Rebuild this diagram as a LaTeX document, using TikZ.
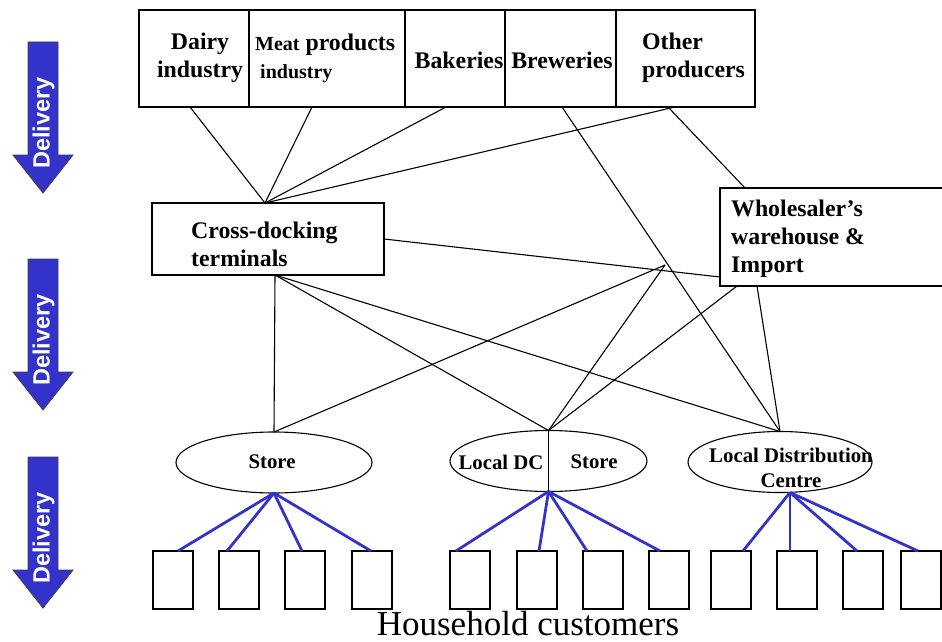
\documentclass[tikz,border=0pt]{standalone}
\usepackage{fontspec}
\setmainfont{Liberation Serif}
\newfontfamily\arialfam{Liberation Sans}
\usetikzlibrary{shapes.geometric}
\definecolor{delblue}{HTML}{3333CC}
\begin{document}
\begin{tikzpicture}[x=1pt,y=-1pt,
  cell/.style={draw, line width=1.2pt, rectangle, inner sep=0pt, outer sep=0pt, minimum height=97pt},
  box/.style={draw, line width=1.2pt, rectangle, inner sep=0pt, outer sep=0pt},
  ell/.style={draw, line width=1.1pt, ellipse, inner sep=0pt, outer sep=0pt},
  hbox/.style={draw, line width=1.5pt, rectangle, inner sep=0pt, outer sep=0pt, minimum width=40pt, minimum height=58pt},
  lbl/.style={inner sep=0pt, font=\fontsize{23.8}{28}\selectfont\bfseries},
  etxt/.style={inner sep=0pt, font=\fontsize{20.8}{25}\selectfont\bfseries},
  conn/.style={line width=1.1pt},
  bline/.style={line width=2.8pt, draw=delblue},
  delarrow/.style={fill=delblue, draw=black!75, line width=0.8pt},
  deltext/.style={rotate=90, text=white, inner sep=0pt, font=\arialfam\bfseries\fontsize{23.5}{23.5}\selectfont}]
\useasboundingbox (0,0) rectangle (942,642);

% Delivery arrows
\foreach \t/\n in {42/da1,259/da2,457/da3}{
  \draw[delarrow] (28,\t) -- (58,\t) -- (58,\t+113) -- (73,\t+113) -- (43,\t+151) -- (13,\t+113) -- (28,\t+113) -- cycle;
  \node[deltext] (\n) at (43.5,\t+81) {Delivery};
}

% top producer cells
\node[cell, minimum width=110pt] (dairy) at (194,58.5) {};
\node[cell, minimum width=156pt] (meat) at (327,58.5) {};
\node[cell, minimum width=100pt] (bak) at (455,58.5) {};
\node[cell, minimum width=111pt] (brew) at (560.5,58.5) {};
\node[cell, minimum width=139pt] (other) at (685.5,58.5) {};
\node[lbl, align=center] (tdairy) at (200,58) {Dairy\\industry};
\node[lbl, align=left, anchor=west] (tmeat) at (255,58) {{\fontsize{20}{28}\selectfont Meat} products\\\hspace*{5pt}{\fontsize{20}{28}\selectfont industry}};
\node[lbl] (tbak) at (459,60) {Bakeries};
\node[lbl] (tbrew) at (562,60) {Breweries};
\node[lbl, align=left, anchor=west] (tother) at (642,58) {Other\\producers};

% middle level
\node[box, minimum width=232pt, minimum height=72pt] (cross) at (268,239) {};
\node[lbl, align=left, anchor=west] (tcross) at (191,244) {Cross-docking\\terminals};
\node[box, minimum width=230pt, minimum height=98pt] (ws) at (835,237) {};
\node[lbl, align=left, anchor=west] (tws) at (731,239) {Wholesaler’s\\warehouse \&\\Import};
\coordinate (J) at (665,265);

% ellipses
\node[ell, minimum width=196pt, minimum height=61pt] (store) at (274,462.5) {};
\node[ell, minimum width=197pt, minimum height=61pt] (mid) at (548.5,461) {};
\node[ell, minimum width=184pt, minimum height=61pt] (ldc) at (780,462) {};
\draw[line width=1pt] (mid.north) -- (mid.south);
\node[etxt] (tstore) at (272,462) {Store};
\node[etxt] (tlocdc) at (501,462) {Local DC};
\node[etxt] (tmidstore) at (594,462) {Store};
\node[etxt, align=center] (tldc) at (791,468) {Local Distribution\\Centre};

% household boxes
\foreach \x [count=\i] in {173,239,305,372,470,537,603,669,731,797,863,921}
  \node[hbox] (b\i) at (\x,580) {};
\node[inner sep=0pt, anchor=base, font=\fontsize{35}{35}\selectfont] (hh) at (528,635.5) {Household customers};

% black connectors
\draw[conn] ([xshift=-4pt]dairy.south) -- ([xshift=-3pt]cross.north);
\draw[conn] ([xshift=-15pt]meat.south) -- ([xshift=-3pt]cross.north);
\draw[conn] ([xshift=-9pt]bak.south) -- ([xshift=-3pt]cross.north);
\draw[conn] ([xshift=-10.5pt]other.south) -- ([xshift=-3pt]cross.north);
\draw[conn] ([xshift=1.5pt]brew.south) -- (ldc.north);
\draw[conn] ([xshift=-17.5pt]other.south) -- ([xshift=25pt]ws.north west);
\draw[conn] (cross.east) -- ([yshift=9pt]ws.south west);
\draw[conn] ([xshift=7pt]cross.south) -- (store.north);
\draw[conn] ([xshift=7pt]cross.south) -- (mid.north);
\draw[conn] ([xshift=7pt]cross.south) -- (ldc.north);
\draw[conn] (store.north) -- (J);
\draw[conn] (mid.north) -- (J);
\draw[conn] ([xshift=17pt]ws.south west) -- (mid.north);
\draw[conn] ([xshift=37pt]ws.south west) -- (ldc.north);

% blue connectors
\foreach \i/\s in {1/5,2/-12,3/-3,4/-1}
  \draw[bline] (store.south) -- ([xshift=\s pt]b\i.north);
\foreach \i/\s in {5/-14,6/2,7/-16,8/-9}
  \draw[bline] (mid.south) -- ([xshift=\s pt]b\i.north);
\foreach \i/\s in {9/12,10/-7,11/-6,12/-3}
  \draw[bline] ([xshift=10pt]ldc.south) -- ([xshift=\s pt]b\i.north);
\end{tikzpicture}
\end{document}
